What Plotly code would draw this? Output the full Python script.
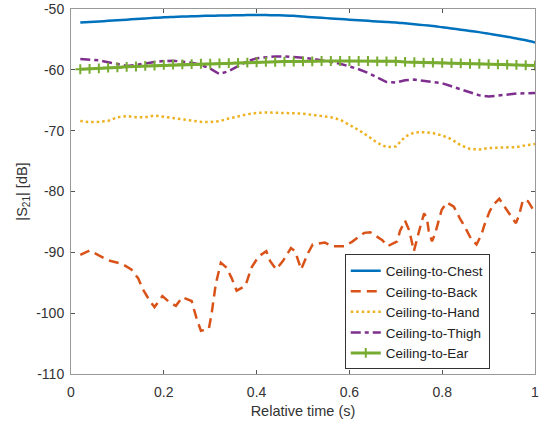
import plotly.graph_objects as go

t = [round(0.02 * i, 2) for i in range(1, 51)]

chest_db = [-52.2, -52.12, -52.05, -51.95, -51.85, -51.75, -51.65, -51.55, -51.45, -51.35,
            -51.3, -51.25, -51.2, -51.15, -51.1, -51.08, -51.05, -51.02, -51.0, -51.0,
            -51.0, -51.02, -51.05, -51.12, -51.25, -51.35, -51.45, -51.55, -51.65, -51.75,
            -51.85, -51.95, -52.05, -52.12, -52.2, -52.35, -52.5, -52.65, -52.8, -53.0,
            -53.2, -53.4, -53.6, -53.8, -54.05, -54.3, -54.55, -54.85, -55.15, -55.5]

thigh_db = [-58.2, -58.3, -58.45, -58.75, -59.1, -59.35, -59.2, -58.9, -58.7, -58.55,
            -58.5, -58.65, -58.85, -59.2, -59.8, -60.7, -60.2, -59.4, -58.6, -58.1,
            -57.9, -57.8, -57.8, -57.85, -58.0, -58.2, -58.4, -58.7, -59.0, -59.4,
            -59.9, -60.5, -61.3, -62.0, -62.1, -61.7, -61.6, -61.8, -61.9, -62.2,
            -62.7, -63.2, -63.8, -64.2, -64.4, -64.2, -64.0, -63.9, -63.85, -63.8]

ear_db = [-59.9, -59.85, -59.75, -59.65, -59.6, -59.5, -59.45, -59.35, -59.3, -59.2,
          -59.15, -59.1, -59.05, -59.0, -59.0, -58.95, -58.9, -58.85, -58.8, -58.75,
          -58.7, -58.7, -58.65, -58.65, -58.6, -58.6, -58.55, -58.55, -58.55, -58.55,
          -58.55, -58.55, -58.6, -58.6, -58.6, -58.7, -58.75, -58.8, -58.8, -58.85,
          -58.9, -58.95, -59.0, -59.0, -59.05, -59.1, -59.15, -59.2, -59.25, -59.3]

hand_db = [-68.4, -68.6, -68.55, -68.4, -67.8, -67.6, -67.8, -67.8, -67.5, -67.7,
           -67.95, -68.1, -68.35, -68.55, -68.6, -68.45, -68.0, -67.6, -67.3, -67.1,
           -67.0, -67.05, -67.1, -67.15, -67.2, -67.4, -67.6, -67.8, -68.2, -69.0,
           -69.9, -70.9, -72.0, -72.7, -72.6, -71.0, -70.3, -70.25, -70.4, -70.8,
           -71.4, -72.4, -73.0, -73.1, -72.85, -72.8, -72.8, -72.7, -72.4, -72.2]

back_t = [0.02, 0.04, 0.06, 0.08, 0.11, 0.13, 0.145, 0.155, 0.17, 0.18,
          0.197, 0.212, 0.226, 0.24, 0.26, 0.27, 0.28, 0.297, 0.303, 0.312,
          0.323, 0.335, 0.346, 0.357, 0.376, 0.389, 0.404, 0.421, 0.429, 0.442,
          0.457, 0.474, 0.483, 0.496, 0.511, 0.521, 0.547, 0.564, 0.59, 0.607,
          0.632, 0.645, 0.671, 0.682, 0.703, 0.709, 0.72, 0.729, 0.739, 0.746,
          0.752, 0.761, 0.767, 0.771, 0.778, 0.784, 0.793, 0.799, 0.81, 0.825,
          0.838, 0.848, 0.863, 0.874, 0.885, 0.891, 0.902, 0.91, 0.923, 0.934,
          0.953, 0.959, 0.966, 0.974, 0.985, 0.996, 1.0]
back_db = [-90.4, -89.7, -90.5, -91.3, -91.9, -92.8, -94.3, -96.1, -98.0, -99.0,
           -97.2, -98.2, -98.8, -97.4, -98.0, -100.7, -102.9, -102.6, -100.1, -95.2,
           -91.7, -92.5, -94.2, -96.3, -95.5, -92.5, -90.7, -89.8, -91.4, -92.8,
           -91.4, -89.3, -89.8, -92.8, -90.1, -88.7, -88.4, -89.0, -89.0, -88.2,
           -86.8, -86.7, -88.0, -89.0, -88.2, -86.5, -84.8, -86.4, -89.8, -87.6,
           -86.0, -83.6, -84.4, -86.5, -88.2, -87.1, -84.6, -83.0, -81.8, -82.5,
           -84.4, -85.7, -87.9, -88.7, -87.0, -85.5, -83.3, -82.2, -81.2, -82.5,
           -84.6, -85.2, -83.8, -81.4, -81.6, -83.0, -83.2]

x_ticks = [0, 0.2, 0.4, 0.6, 0.8, 1]
x_ticklabels = ["0", "0.2", "0.4", "0.6", "0.8", "1"]
y_ticks = [-110, -100, -90, -80, -70, -60, -50]
y_ticklabels = ["-110", "-100", "-90", "-80", "-70", "-60", "-50"]

fig = go.Figure()
fig.add_trace(go.Scatter(x=t, y=chest_db, mode="lines", name="Ceiling-to-Chest",
                         line=dict(color="#0072BD", width=2.5, shape="spline", smoothing=0.6)))
fig.add_trace(go.Scatter(x=back_t, y=back_db, mode="lines", name="Ceiling-to-Back",
                         line=dict(color="#D95319", width=2.5, dash="10px,6px")))
fig.add_trace(go.Scatter(x=t, y=hand_db, mode="lines", name="Ceiling-to-Hand",
                         line=dict(color="#EDB120", width=2.5, dash="2.5px,3px")))
fig.add_trace(go.Scatter(x=t, y=thigh_db, mode="lines", name="Ceiling-to-Thigh",
                         line=dict(color="#7E2F8E", width=2.5, dash="10px,4px,4px,4px")))
fig.add_trace(go.Scatter(x=t, y=ear_db, mode="lines+markers", name="Ceiling-to-Ear",
                         line=dict(color="#77AC30", width=3),
                         marker=dict(symbol="cross-thin", size=7,
                                     line=dict(color="#77AC30", width=2))))

axis_common = dict(showline=True, linecolor="#999999", linewidth=1, mirror="allticks",
                   ticks="inside", ticklen=4, tickcolor="#555555", showgrid=False,
                   zeroline=False, ticklabeloverflow="allow",
                   tickfont=dict(size=14, color="#333333"))

fig.update_layout(
    width=540, height=427,
    margin=dict(l=71, r=1, t=6, b=53),
    paper_bgcolor="white", plot_bgcolor="white",
    font=dict(family="Liberation Sans, Arial, sans-serif", size=14, color="#333333"),
    xaxis=dict(range=[0, 1], tickvals=x_ticks, ticktext=x_ticklabels,
               ticklabelstandoff=5,
               title=dict(text="Relative time (s)", font=dict(size=14.5), standoff=7),
               **axis_common),
    yaxis=dict(range=[-110, -50], tickvals=y_ticks, ticktext=y_ticklabels,
               ticklabelstandoff=3,
               title=dict(text="|S<sub>21</sub>| [dB]", font=dict(size=14.5), standoff=5),
               **axis_common),
    legend=dict(x=0.59, y=0.17, xanchor="left", yanchor="middle",
                bgcolor="white", bordercolor="#333333", borderwidth=1,
                font=dict(size=13.5, color="#222222"), tracegroupgap=0,
                itemwidth=30),
    showlegend=True,
)

fig.write_html("out.html")
